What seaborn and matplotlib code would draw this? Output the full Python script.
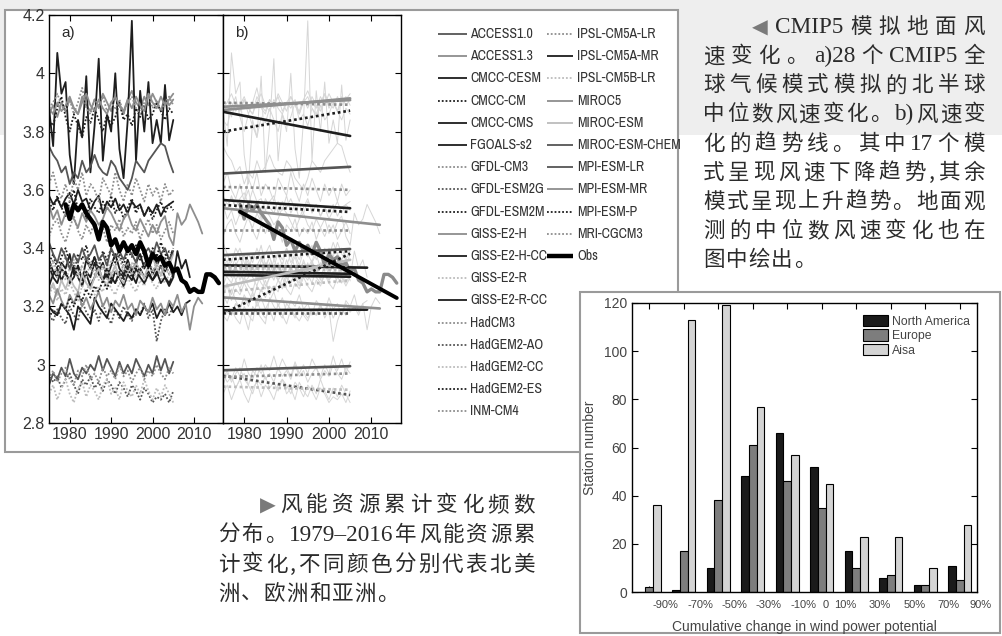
import re
import numpy as np
import pandas as pd
import matplotlib
matplotlib.use("Agg")
import matplotlib.pyplot as plt
from matplotlib import font_manager
from matplotlib.patches import Rectangle, Patch
import seaborn as sns

# ---------------- CMIP5 median surface wind speed (m/s), from 1975 ----------------
model_names = [
    "ACCESS1.0", "ACCESS1.3", "CMCC-CESM", "CMCC-CM", "CMCC-CMS", "FGOALS-s2",
    "GFDL-CM3", "GFDL-ESM2G", "GFDL-ESM2M", "GISS-E2-H", "GISS-E2-H-CC", "GISS-E2-R",
    "GISS-E2-R-CC", "HadCM3", "HadGEM2-AO", "HadGEM2-CC", "HadGEM2-ES", "INM-CM4",
    "IPSL-CM5A-LR", "IPSL-CM5A-MR", "IPSL-CM5B-LR", "MIROC5", "MIROC-ESM",
    "MIROC-ESM-CHEM", "MPI-ESM-LR", "MPI-ESM-MR", "MPI-ESM-P", "MRI-CGCM3",
]
first_year = 1975

ACCESS1_0 = [2.93, 2.97, 2.95, 2.99, 2.96, 3.02, 2.97, 2.95, 2.99, 2.97, 3.00, 2.98, 3.03, 2.98, 3.02, 2.99,
             2.96, 3.01, 2.97, 3.00, 2.97, 3.02, 2.99, 2.96, 3.00, 2.97, 3.03, 2.98, 3.02, 2.97, 3.01]
ACCESS1_3 = [3.86, 3.89, 3.85, 3.90, 3.87, 3.91, 3.88, 3.86, 3.92, 3.89, 3.87, 3.91, 3.88, 3.93, 3.90, 3.87,
             3.92, 3.89, 3.86, 3.91, 3.94, 3.90, 3.88, 3.92, 3.89, 3.93, 3.90, 3.87, 3.92, 3.89, 3.91]
CMCC_CESM = [3.88, 3.75, 4.07, 3.93, 3.97, 3.72, 3.62, 3.84, 3.78, 3.99, 3.66, 3.82, 4.05, 3.70, 3.86, 3.80,
             4.00, 3.74, 3.64, 3.84, 4.18, 3.70, 3.94, 3.80, 3.97, 3.76, 3.84, 3.76, 3.96, 3.77, 3.84]
CMCC_CM = [3.84, 3.82, 3.88, 3.92, 3.85, 3.80, 3.86, 3.82, 3.78, 3.85, 3.83, 3.88, 3.84, 3.80, 3.86, 3.82,
           3.85, 3.90, 3.84, 3.86, 3.82, 3.88, 3.85, 3.89, 3.84, 3.86, 3.90, 3.87, 3.84, 3.88, 3.86]
CMCC_CMS = [3.58, 3.55, 3.57, 3.54, 3.57, 3.59, 3.55, 3.60, 3.56, 3.57, 3.53, 3.56, 3.58, 3.52, 3.56, 3.54,
            3.57, 3.53, 3.55, 3.52, 3.56, 3.54, 3.55, 3.51, 3.54, 3.52, 3.55, 3.51, 3.54, 3.55, 3.56]
FGOALS_s2 = [3.36, 3.32, 3.30, 3.35, 3.33, 3.38, 3.31, 3.34, 3.29, 3.36, 3.33, 3.37, 3.32, 3.35, 3.30, 3.34,
             3.38, 3.33, 3.31, 3.36, 3.32, 3.35, 3.38, 3.33, 3.36, 3.31, 3.34, 3.37, 3.32, 3.35, 3.30, 3.39,
             3.33, 3.36, 3.30]
GFDL_CM3 = [3.88, 3.90, 3.93, 3.89, 3.87, 3.91, 3.86, 3.90, 3.95, 3.88, 3.86, 3.91, 3.89, 3.92, 3.87, 3.90,
            3.88, 3.91, 3.86, 3.90, 3.92, 3.88, 3.86, 3.90, 3.93, 3.88, 3.91, 3.87, 3.90, 3.92, 3.89]
GFDL_ESM2G = [3.17, 3.15, 3.19, 3.16, 3.14, 3.20, 3.17, 3.15, 3.22, 3.18, 3.16, 3.19, 3.15, 3.21, 3.17, 3.14,
              3.19, 3.16, 3.20, 3.17, 3.15, 3.19, 3.17, 3.21, 3.16, 3.19, 3.08, 3.15, 3.19, 3.17, 3.20]
GFDL_ESM2M = [3.56, 3.53, 3.58, 3.54, 3.51, 3.56, 3.60, 3.53, 3.55, 3.50, 3.57, 3.54, 3.52, 3.56, 3.53, 3.58,
              3.52, 3.55, 3.50, 3.54, 3.57, 3.52, 3.55, 3.51, 3.54, 3.50, 3.53, 3.56, 3.52, 3.55, 3.53]
GISS_E2_H = [3.55, 3.50, 3.53, 3.48, 3.52, 3.54, 3.50, 3.47, 3.52, 3.49, 3.53, 3.51, 3.48, 3.50, 3.54, 3.52,
             3.49, 3.46, 3.50, 3.52, 3.48, 3.46, 3.50, 3.47, 3.44, 3.48, 3.45, 3.49, 3.51, 3.44, 3.41, 3.52,
             3.48, 3.50, 3.55, 3.52, 3.49, 3.45]
GISS_E2_H_CC = [3.34, 3.30, 3.28, 3.33, 3.31, 3.29, 3.34, 3.30, 3.27, 3.32, 3.30, 3.35, 3.31, 3.29, 3.33, 3.30,
                3.28, 3.32, 3.30, 3.34, 3.31, 3.28, 3.33, 3.30, 3.32, 3.29, 3.31, 3.34, 3.30, 3.28, 3.31]
GISS_E2_R = [3.24, 3.27, 3.22, 3.26, 3.24, 3.28, 3.25, 3.22, 3.27, 3.25, 3.29, 3.24, 3.27, 3.25, 3.30, 3.26,
             3.24, 3.28, 3.26, 3.30, 3.27, 3.25, 3.29, 3.27, 3.31, 3.28, 3.26, 3.30, 3.28, 3.31, 3.29]
GISS_E2_R_CC = [3.27, 3.31, 3.33, 3.29, 3.32, 3.28, 3.30, 3.34, 3.29, 3.31, 3.27, 3.30, 3.33, 3.29, 3.31, 3.28,
                3.32, 3.30, 3.27, 3.31, 3.29, 3.33, 3.30, 3.28, 3.31, 3.29, 3.32, 3.28, 3.30, 3.27, 3.30]
HadCM3 = [3.62, 3.66, 3.60, 3.57, 3.62, 3.56, 3.64, 3.60, 3.66, 3.58, 3.62, 3.60, 3.56, 3.64, 3.61, 3.58,
          3.66, 3.60, 3.56, 3.62, 3.58, 3.64, 3.60, 3.56, 3.62, 3.58, 3.61, 3.56, 3.62, 3.58, 3.60]
HadGEM2_AO = [2.97, 2.94, 2.96, 2.92, 2.95, 2.97, 2.93, 2.90, 2.95, 2.93, 2.96, 2.92, 2.94, 2.91, 2.95, 2.93,
              2.90, 2.94, 2.92, 2.89, 2.93, 2.91, 2.88, 2.92, 2.90, 2.87, 2.89, 2.88, 2.90, 2.87, 2.91]
HadGEM2_CC = [2.90, 2.93, 2.88, 2.92, 2.95, 2.90, 2.87, 2.92, 2.94, 2.89, 2.93, 2.91, 2.88, 2.93, 2.95, 2.90,
              2.92, 2.88, 2.94, 2.91, 2.89, 2.93, 2.90, 2.95, 2.91, 2.88, 2.92, 2.89, 2.93, 2.90, 2.87]
HadGEM2_ES = [3.35, 3.38, 3.33, 3.37, 3.40, 3.35, 3.32, 3.38, 3.36, 3.41, 3.34, 3.37, 3.33, 3.39, 3.36, 3.40,
              3.35, 3.38, 3.34, 3.39, 3.37, 3.41, 3.36, 3.39, 3.35, 3.40, 3.37, 3.42, 3.38, 3.36, 3.40]
INM_CM4 = [3.44, 3.48, 3.50, 3.45, 3.42, 3.47, 3.51, 3.46, 3.43, 3.48, 3.45, 3.49, 3.44, 3.47, 3.42, 3.48,
           3.46, 3.50, 3.44, 3.47, 3.45, 3.49, 3.43, 3.47, 3.50, 3.45, 3.48, 3.43, 3.46, 3.49, 3.45]
IPSL_CM5A_LR = [3.33, 3.36, 3.31, 3.34, 3.37, 3.32, 3.35, 3.30, 3.34, 3.37, 3.33, 3.31, 3.36, 3.33, 3.35, 3.30,
                3.34, 3.37, 3.32, 3.35, 3.33, 3.36, 3.31, 3.34, 3.37, 3.32, 3.35, 3.33, 3.36, 3.31, 3.34]
IPSL_CM5A_MR = [3.20, 3.18, 3.17, 3.21, 3.19, 3.17, 3.12, 3.20, 3.18, 3.16, 3.14, 3.23, 3.20, 3.18, 3.16, 3.21,
                3.19, 3.17, 3.15, 3.18, 3.16, 3.19, 3.17, 3.20, 3.18, 3.21, 3.16, 3.19, 3.17, 3.21, 3.18, 3.20,
                3.17, 3.21, 3.22]
IPSL_CM5B_LR = [3.31, 3.35, 3.30, 3.34, 3.29, 3.33, 3.36, 3.31, 3.34, 3.30, 3.35, 3.32, 3.29, 3.34, 3.31, 3.36,
                3.32, 3.30, 3.34, 3.31, 3.35, 3.30, 3.33, 3.29, 3.34, 3.31, 3.35, 3.30, 3.33, 3.31, 3.32]
MIROC5 = [3.88, 3.86, 3.90, 3.87, 3.89, 3.92, 3.88, 3.86, 3.90, 3.93, 3.89, 3.87, 3.91, 3.88, 3.86, 3.90,
          3.92, 3.89, 3.87, 3.91, 3.88, 3.92, 3.89, 3.87, 3.93, 3.90, 3.88, 3.92, 3.89, 3.91, 3.93]
MIROC_ESM = [3.25, 3.28, 3.24, 3.29, 3.26, 3.30, 3.27, 3.25, 3.31, 3.28, 3.26, 3.30, 3.33, 3.29, 3.27, 3.31,
             3.34, 3.30, 3.28, 3.33, 3.31, 3.35, 3.32, 3.30, 3.34, 3.37, 3.33, 3.31, 3.36, 3.34, 3.38]
MIROC_ESM_CHEM = [3.75, 3.72, 3.70, 3.66, 3.68, 3.62, 3.66, 3.64, 3.70, 3.66, 3.68, 3.72, 3.68, 3.66, 3.65, 3.70,
                  3.68, 3.64, 3.62, 3.60, 3.64, 3.70, 3.68, 3.66, 3.70, 3.72, 3.74, 3.76, 3.75, 3.70, 3.66]
MPI_ESM_LR = [3.42, 3.38, 3.35, 3.40, 3.37, 3.33, 3.38, 3.35, 3.40, 3.36, 3.38, 3.41, 3.36, 3.38, 3.34, 3.40,
              3.37, 3.39, 3.36, 3.40, 3.38, 3.35, 3.41, 3.38, 3.40, 3.37, 3.42, 3.38, 3.40, 3.36, 3.39]
MPI_ESM_MR = [3.24, 3.21, 3.26, 3.22, 3.19, 3.24, 3.21, 3.25, 3.20, 3.23, 3.19, 3.22, 3.25, 3.20, 3.23, 3.18,
              3.22, 3.20, 3.24, 3.19, 3.21, 3.17, 3.22, 3.20, 3.18, 3.23, 3.19, 3.21, 3.17, 3.22, 3.20, 3.24,
              3.18, 3.21, 3.12, 3.20, 3.23, 3.21]
MPI_ESM_P = [3.16, 3.19, 3.17, 3.21, 3.19, 3.23, 3.20, 3.24, 3.22, 3.26, 3.23, 3.27, 3.25, 3.29, 3.26, 3.30,
             3.28, 3.31, 3.29, 3.33, 3.30, 3.34, 3.32, 3.35, 3.33, 3.37, 3.35, 3.38, 3.36, 3.39, 3.38]
MRI_CGCM3 = [2.95, 2.98, 2.94, 2.97, 2.99, 2.95, 2.93, 2.98, 2.96, 3.00, 2.95, 2.97, 2.94, 2.99, 2.96, 2.98,
             2.95, 3.00, 2.96, 2.98, 2.94, 2.97, 2.99, 2.95, 2.98, 2.96, 3.00, 2.97, 2.95, 2.99, 2.97]

model_series = [
    ACCESS1_0, ACCESS1_3, CMCC_CESM, CMCC_CM, CMCC_CMS, FGOALS_s2, GFDL_CM3, GFDL_ESM2G, GFDL_ESM2M,
    GISS_E2_H, GISS_E2_H_CC, GISS_E2_R, GISS_E2_R_CC, HadCM3, HadGEM2_AO, HadGEM2_CC, HadGEM2_ES, INM_CM4,
    IPSL_CM5A_LR, IPSL_CM5A_MR, IPSL_CM5B_LR, MIROC5, MIROC_ESM, MIROC_ESM_CHEM, MPI_ESM_LR, MPI_ESM_MR,
    MPI_ESM_P, MRI_CGCM3,
]

# trend line values at first and last year of each model (panel b)
trend_start = [2.981, 3.874, 3.868, 3.800, 3.565, 3.341, 3.899, 3.177, 3.548, 3.537, 3.319, 3.250, 3.308, 3.610,
               2.962, 2.925, 3.360, 3.462, 3.335, 3.187, 3.330, 3.885, 3.268, 3.656, 3.376, 3.231, 3.176, 2.958]
trend_end = [2.995, 3.914, 3.785, 3.872, 3.537, 3.333, 3.892, 3.177, 3.524, 3.480, 3.312, 3.290, 3.302, 3.600,
             2.896, 2.914, 3.390, 3.462, 3.340, 3.189, 3.325, 3.908, 3.360, 3.679, 3.397, 3.193, 3.381, 2.970]

obs_years = list(range(1979, 2017))
obs_speed = [3.55, 3.50, 3.55, 3.53, 3.55, 3.52, 3.50, 3.48, 3.43, 3.49, 3.47, 3.41, 3.43, 3.39, 3.42, 3.39,
             3.41, 3.38, 3.42, 3.39, 3.34, 3.38, 3.36, 3.37, 3.34, 3.35, 3.32, 3.33, 3.29, 3.28, 3.25, 3.26,
             3.25, 3.25, 3.31, 3.31, 3.30, 3.28]
obs_trend = [3.525, 3.229]

# ---------------- wind power change histogram ----------------
bins = ["b1", "b2", "b3", "b4", "b5", "b6", "b7", "b8", "b9", "b10"]
north_america = [0, 1, 10, 48, 66, 52, 17, 6, 3, 11]
europe = [2, 17, 38, 61, 46, 35, 10, 7, 3, 5]
asia = [36, 113, 119, 77, 57, 45, 23, 23, 10, 28]
region_names = ["North America", "Europe", "Aisa"]
bar_tick_labels = ["-90%", "-70%", "-50%", "-30%", "-10%", "0", "10%", "30%", "50%", "70%", "90%"]

caption_cmip = ["◀CMIP5 模拟地面风", "速变化。a)28 个 CMIP5 全", "球气候模式模拟的北半球",
                "中位数风速变化。b)风速变", "化的趋势线。其中 17 个模", "式呈现风速下降趋势,其余",
                "模式呈现上升趋势。地面观", "测的中位数风速变化也在", "图中绘出。"]
caption_wind = ["▶风能资源累计变化频数", "分布。1979–2016 年风能资源累",
                "计变化,不同颜色分别代表北美", "洲、欧洲和亚洲。"]

# ---------------- styles ----------------
W, H = 1003, 636
BLACK, DARK, GRAY, LIGHT = "#1e1e1e", "#555555", "#8e8e8e", "#bcbcbc"
TEXT = "#2b2b2b"
SOLID, DOT = "", (1, 1.1)
model_styles = {
    "ACCESS1.0": (DARK, SOLID), "ACCESS1.3": (GRAY, SOLID), "CMCC-CESM": (BLACK, SOLID),
    "CMCC-CM": (BLACK, DOT), "CMCC-CMS": (BLACK, SOLID), "FGOALS-s2": (BLACK, SOLID),
    "GFDL-CM3": (GRAY, DOT), "GFDL-ESM2G": (DARK, DOT), "GFDL-ESM2M": (BLACK, DOT),
    "GISS-E2-H": (GRAY, SOLID), "GISS-E2-H-CC": (BLACK, SOLID), "GISS-E2-R": (LIGHT, DOT),
    "GISS-E2-R-CC": (BLACK, SOLID), "HadCM3": (GRAY, DOT), "HadGEM2-AO": (DARK, DOT),
    "HadGEM2-CC": (LIGHT, DOT), "HadGEM2-ES": (BLACK, DOT), "INM-CM4": (GRAY, DOT),
    "IPSL-CM5A-LR": (GRAY, DOT), "IPSL-CM5A-MR": (BLACK, SOLID), "IPSL-CM5B-LR": (LIGHT, DOT),
    "MIROC5": (GRAY, SOLID), "MIROC-ESM": (LIGHT, SOLID), "MIROC-ESM-CHEM": (DARK, SOLID),
    "MPI-ESM-LR": (DARK, SOLID), "MPI-ESM-MR": (GRAY, SOLID), "MPI-ESM-P": (BLACK, DOT),
    "MRI-CGCM3": (GRAY, DOT),
}
palette = {n: c for n, (c, _) in model_styles.items()}
dashes = {n: d for n, (_, d) in model_styles.items()}
bar_colors = ["#1a1a1a", "#7d7d7d", "#d4d4d4"]

sns.set_style("ticks")
available = {f.name for f in font_manager.fontManager.ttflist}
narrow = sorted(n for n in available if "Narrow" in n or "Condensed" in n)
NARROW = narrow[0] if narrow else "Liberation Sans"
LEG_SIZE = 10 if narrow else 8.2
CJK = "Noto Serif CJK SC" if "Noto Serif CJK SC" in available else "Noto Sans CJK SC"
plt.rcParams["font.family"] = ["Liberation Sans", "DejaVu Sans"]


def frac(x0, y0, x1, y1):
    """Pixel box (top-left origin) -> figure fraction rect."""
    return [x0 / W, 1 - y1 / H, (x1 - x0) / W, (y1 - y0) / H]


def style_box(ax):
    ax.tick_params(direction="in", top=True, right=True, length=4, width=0.8, colors="black",
                   labelcolor="#333333")
    for s in ax.spines.values():
        s.set_linewidth(1.0)
        s.set_color("black")


# long tables for seaborn
rows, trows = [], []
for name, vals, t0, t1 in zip(model_names, model_series, trend_start, trend_end):
    for i, v in enumerate(vals):
        rows.append((name, first_year + i, v))
    trows.append((name, first_year, t0))
    trows.append((name, first_year + len(vals) - 1, t1))
models_df = pd.DataFrame(rows, columns=["model", "year", "speed"])
trend_df = pd.DataFrame(trows, columns=["model", "year", "speed"])

fig = plt.figure(figsize=(W / 100, H / 100), dpi=100)
fig.patch.set_facecolor("white")

# page background and frames
bg = fig.add_axes([0, 0, 1, 1], zorder=-5)
bg.set_xlim(0, W)
bg.set_ylim(H, 0)
bg.axis("off")
bg.add_patch(Rectangle((0, 0), W, 135, fc="#eeeeee", ec="none"))
bg.add_patch(Rectangle((5, 10), 673, 442, fc="white", ec="#9a9a9a", lw=1.5))
bg.add_patch(Rectangle((580, 292), 420, 341, fc="white", ec="#9a9a9a", lw=1.5))

# ---- panel a ----
ax_a = fig.add_axes(frac(49, 15, 223, 423))
sns.lineplot(data=models_df, x="year", y="speed", hue="model", style="model", palette=palette,
             dashes=dashes, linewidth=1.3, estimator=None, legend=False, ax=ax_a)
sns.lineplot(x=obs_years, y=obs_speed, color="black", linewidth=3.2, ax=ax_a)
ax_a.set_ylim(2.8, 4.2)
ax_a.set_yticks(np.arange(2.8, 4.21, 0.2))
ax_a.set_yticklabels([f"{v:g}" for v in np.round(np.arange(2.8, 4.21, 0.2), 1)])
ax_a.text(0.07, 0.955, "a)", transform=ax_a.transAxes, fontsize=11, va="center", color=TEXT)

# ---- panel b ----
ax_b = fig.add_axes(frac(223, 15, 401, 423))
sns.lineplot(data=models_df, x="year", y="speed", units="model", estimator=None, color="#d6d6d6",
             linewidth=0.7, ax=ax_b)
sns.lineplot(x=obs_years, y=obs_speed, color="#8a8a8a", linewidth=2.4, ax=ax_b)
sns.lineplot(data=trend_df, x="year", y="speed", hue="model", style="model", palette=palette,
             dashes=dashes, linewidth=1.9, estimator=None, legend=False, ax=ax_b)
sns.lineplot(x=[obs_years[0], obs_years[-1]], y=obs_trend, color="black", linewidth=2.8, ax=ax_b)
ax_b.set_ylim(2.8, 4.2)
ax_b.set_yticks(np.arange(2.8, 4.21, 0.2))
ax_b.set_yticklabels([])
ax_b.text(0.07, 0.955, "b)", transform=ax_b.transAxes, fontsize=11, va="center", color=TEXT)

for ax in (ax_a, ax_b):
    ax.set_xlim(1975, 2017)
    ax.set_xticks([1980, 1990, 2000, 2010])
    ax.set_xlabel("")
    ax.set_ylabel("")
    style_box(ax)
    ax.tick_params(labelsize=11.5, pad=3)

# ---- histogram ----
bar_df = pd.DataFrame({
    "bin": bins * 3,
    "region": [r for r in region_names for _ in bins],
    "count": north_america + europe + asia,
})
ax_c = fig.add_axes(frac(632, 303, 977, 592))
sns.barplot(data=bar_df, x="bin", y="count", hue="region", order=bins, hue_order=region_names,
            palette=bar_colors, edgecolor="black", linewidth=0.8, width=0.68, gap=0,
            legend=False, ax=ax_c)
ax_c.set_xlim(-0.5, 9.5)
ax_c.set_ylim(0, 120)
ax_c.set_yticks(range(0, 121, 20))
ax_c.set_xticks(range(len(bins)))
ax_c.set_xticklabels([])
style_box(ax_c)
ax_c.tick_params(labelsize=10, labelcolor="#444444")
label_pos = [0.48, 1.48, 2.48, 3.47, 4.47, 5.1, 5.67, 6.68, 7.7, 8.67, 9.61]
for xp, lab in zip(label_pos, bar_tick_labels):
    ax_c.text(xp, -0.045, lab, transform=ax_c.get_xaxis_transform(), ha="center", va="center",
              fontsize=8, color="#444444")
ax_c.set_xlabel("Cumulative change in wind power potential", fontsize=10, color="#444444", labelpad=17)
ax_c.set_ylabel("Station number", fontsize=10, color="#444444", labelpad=5)
handles = [Patch(facecolor=c, edgecolor="black", linewidth=0.8) for c in bar_colors]
ax_c.legend(handles, region_names, loc="upper left", bbox_to_anchor=(0.67, 0.958), frameon=False,
            fontsize=8.8, handlelength=2.0, handleheight=1.05, handletextpad=0.35, labelspacing=0.12,
            borderpad=0, borderaxespad=0, labelcolor="#444444")

# ---- overlay: model legend and captions ----
ov = fig.add_axes([0, 0, 1, 1], zorder=10)
ov.set_xlim(0, W)
ov.set_ylim(H, 0)
ov.axis("off")

legend_cols = [(model_names[:18], 438, 467, 470), (model_names[18:] + ["Obs"], 547, 573, 577)]
for names, lx0, lx1, tx in legend_cols:
    for r, name in enumerate(names):
        y = 34 + r * 22.2
        if name == "Obs":
            color, ls, lw = "black", "-", 3.2
        else:
            color, d = model_styles[name]
            ls, lw = ("-" if d == SOLID else (0, d)), 1.3
        ov.plot([lx0, lx1], [y, y], color=color, linestyle=ls, linewidth=lw, solid_capstyle="butt")
        ov.text(tx, y, name, va="center", ha="left", fontsize=LEG_SIZE, family=[NARROW, "DejaVu Sans"],
                color="#333333")

renderer = fig.canvas.get_renderer()


def place_line(text, x0, yc, x1=None, size=15.5):
    """Lay out one caption line token by token, justified between x0 and x1."""
    tokens = re.findall(r"[A-Za-z0-9().\-–]+|\S", text)
    base = yc + size * 100 / 72 * 0.38
    items = []
    for tok in tokens:
        if tok in "◀▶":
            kw = dict(family=["DejaVu Sans"], color="#7a7a7a", fontsize=size * 0.95)
        elif re.match(r"[A-Za-z0-9]", tok):
            kw = dict(family=["Liberation Serif", "DejaVu Serif"], color=TEXT, fontsize=size * 1.08)
        else:
            kw = dict(family=[CJK, "DejaVu Sans"], color=TEXT, fontsize=size)
        items.append(ov.text(0, base, tok, va="baseline", ha="left", **kw))
    widths = [t.get_window_extent(renderer).width for t in items]
    gap = size * 0.08 if x1 is None else (x1 - x0 - sum(widths)) / (len(items) - 1)
    x = x0
    for t, w in zip(items, widths):
        t.set_x(x)
        x += w + gap


for i, line in enumerate(caption_cmip):
    yc = 25 + i * 29.1
    if i == 0:
        place_line(line, 752, yc, 985)
    elif i == len(caption_cmip) - 1:
        place_line(line, 703, yc)
    else:
        place_line(line, 703, yc, 985)

for i, line in enumerate(caption_wind):
    yc = 503 + i * 29.7
    if i == 0:
        place_line(line, 260, yc, 535)
    elif i == len(caption_wind) - 1:
        place_line(line, 218, yc)
    else:
        place_line(line, 218, yc, 535)

fig.savefig("out.png", dpi=100, facecolor=fig.get_facecolor())
